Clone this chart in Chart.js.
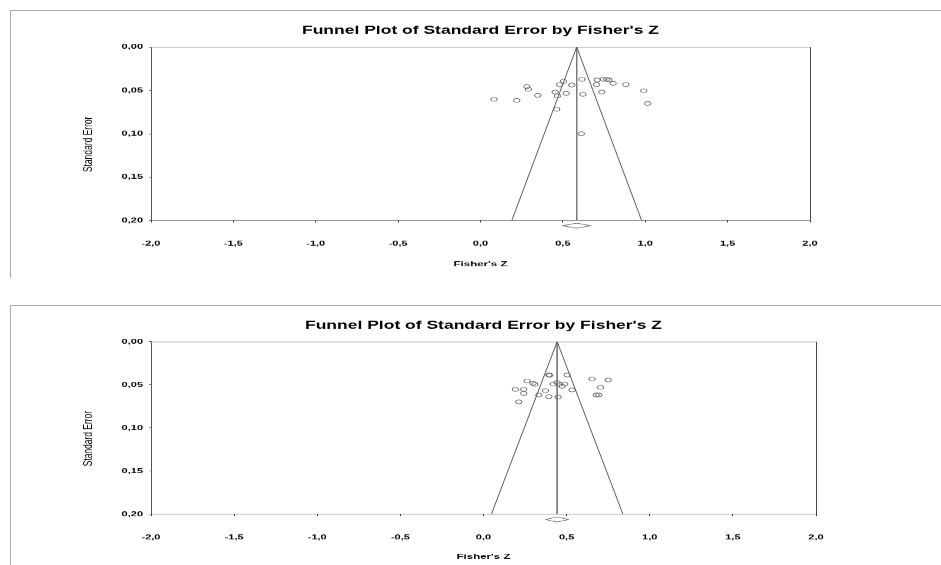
<!DOCTYPE html>
<html><head><meta charset="utf-8">
<script src="https://cdn.jsdelivr.net/npm/chart.js@4.4.1/dist/chart.umd.min.js"></script>
<style>
html,body{margin:0;padding:0;background:#fff;width:941px;height:565px;overflow:hidden;position:relative}
.frame{position:absolute;border-top:1px solid #a8a8a8;border-left:1px solid #a8a8a8;box-sizing:border-box}
canvas{position:absolute;left:0;transform:scaleY(0.625);transform-origin:0 0}
</style></head><body>
<div class="frame" style="left:10px;top:10px;width:931px;height:268px"></div>
<div class="frame" style="left:10px;top:305px;width:931px;height:260px"></div>
<canvas id="c1" width="941" height="464" style="top:0px"></canvas>
<canvas id="c2" width="941" height="440" style="top:290px"></canvas>
<script>
// ---- text ----
const chartTitle = "Funnel Plot of Standard Error by Fisher's Z";
const xAxisTitle = "Fisher's Z";
const yAxisTitle = "Standard Error";

// ---- tick values & labels ----
const xTickValues = [-2, -1.5, -1, -0.5, 0, 0.5, 1, 1.5, 2];
const xTickLabels = ['-2,0', '-1,5', '-1,0', '-0,5', '0,0', '0,5', '1,0', '1,5', '2,0'];
const yTickValues = [0, 0.05, 0.10, 0.15, 0.20];
const yTickLabels = ['0,00', '0,05', '0,10', '0,15', '0,20'];

// ---- top plot: studies ----
const topZ  = [0.082, 0.220, 0.281, 0.291, 0.348, 0.453, 0.467, 0.463, 0.480, 0.504, 0.520, 0.554, 0.616, 0.622, 0.612, 0.708, 0.704, 0.736, 0.746, 0.766, 0.780, 0.805, 0.882, 0.991, 1.015];
const topSE = [0.0603, 0.0615, 0.0457, 0.0488, 0.0557, 0.0519, 0.0565, 0.0718, 0.0434, 0.0396, 0.0534, 0.0438, 0.0373, 0.0546, 0.0999, 0.0380, 0.0434, 0.0519, 0.0373, 0.0373, 0.0380, 0.0419, 0.0434, 0.0504, 0.0650];
// top plot: funnel, mean line, summary diamond
const topFunnelZ  = [0.190, 0.584, 0.978];
const topFunnelSE = [0.20, 0.00, 0.20];
const topMeanZ  = [0.584, 0.584];
const topMeanSE = [0.00, 0.20];
const topDiamondZ  = [0.496, 0.584, 0.672, 0.584, 0.496];
const topDiamondSE = [0.206, 0.2031, 0.206, 0.2089, 0.206];

// ---- bottom plot: studies ----
const botZ  = [0.192, 0.212, 0.242, 0.242, 0.262, 0.298, 0.309, 0.333, 0.373, 0.393, 0.398, 0.393, 0.419, 0.443, 0.449, 0.457, 0.473, 0.489, 0.503, 0.533, 0.653, 0.704, 0.750, 0.678, 0.694];
const botSE = [0.0553, 0.0697, 0.0553, 0.0599, 0.0455, 0.0482, 0.0494, 0.0617, 0.0567, 0.0386, 0.0388, 0.0637, 0.0490, 0.0471, 0.0641, 0.0494, 0.0517, 0.0490, 0.0386, 0.0559, 0.0432, 0.0528, 0.0444, 0.0617, 0.0617];
// bottom plot: funnel, mean line, summary diamond
const botFunnelZ  = [0.047, 0.443, 0.839];
const botFunnelSE = [0.20, 0.00, 0.20];
const botMeanZ  = [0.443, 0.443];
const botMeanSE = [0.00, 0.20];
const botDiamondZ  = [0.373, 0.443, 0.513, 0.443, 0.373];
const botDiamondSE = [0.206, 0.2031, 0.206, 0.2089, 0.206];

const FONT = "'Liberation Sans', Arial, sans-serif";
const pts = (xs, ys) => xs.map((x, i) => ({x: x, y: ys[i]}));

const plotFrame = {
  id: 'plotFrame',
  beforeDatasetsDraw(chart) {
    const {ctx, chartArea: a} = chart;
    ctx.save();
    ctx.lineWidth = 1;
    ctx.strokeStyle = '#9a9a9a';
    ctx.beginPath(); ctx.moveTo(a.left, a.top + 0.5); ctx.lineTo(a.right, a.top + 0.5); ctx.stroke();
    ctx.strokeStyle = '#444';
    ctx.beginPath(); ctx.moveTo(Math.round(a.right) + 0.5, a.top); ctx.lineTo(Math.round(a.right) + 0.5, a.bottom); ctx.stroke();
    ctx.restore();
  }
};

function makeChart(id, d, L) {
  return new Chart(document.getElementById(id), {
    type: 'scatter',
    data: {
      datasets: [
        { data: pts(d.z, d.se), pointStyle: 'circle', pointRadius: 3.2, pointBorderWidth: 1,
          borderColor: '#606060', backgroundColor: 'rgba(0,0,0,0)', showLine: false },
        { data: pts(d.fz, d.fse), showLine: true, pointRadius: 0, borderColor: '#5a5a5a', borderWidth: 1, fill: false },
        { data: pts(d.mz, d.mse), showLine: true, pointRadius: 0, borderColor: '#7a7a7a', borderWidth: 1, fill: false },
        { data: pts(d.dz, d.dse), showLine: true, pointRadius: 0, borderColor: '#666', borderWidth: 1, fill: false, clip: false }
      ]
    },
    options: {
      responsive: false, maintainAspectRatio: false, animation: false, events: [],
      layout: { padding: { left: 0, top: 0, right: L.padRight, bottom: 0 } },
      plugins: {
        legend: { display: false }, tooltip: { enabled: false },
        title: { display: true, text: chartTitle, fullSize: false, color: '#000',
          font: { family: FONT, size: 17.5, weight: 'bold', lineHeight: 1.2 },
          padding: { top: L.titleTop, bottom: L.titleBottom } }
      },
      scales: {
        x: {
          type: 'linear', position: 'bottom', min: -2, max: 2,
          afterBuildTicks: s => { s.ticks = xTickValues.map(v => ({value: v})); },
          afterFit: s => { s.height = L.xHeight; },
          ticks: { autoSkip: false, maxRotation: 0, padding: 27.2, color: '#000',
            font: { family: FONT, size: 11, weight: 'bold' },
            callback: (v) => { const i = xTickValues.findIndex(t => Math.abs(t - v) < 1e-9); return i >= 0 ? xTickLabels[i] : ''; } },
          grid: { drawOnChartArea: false, drawTicks: true, tickLength: 3, color: '#333' },
          border: { display: true, color: '#707070', width: 1 },
          title: { display: true, text: xAxisTitle, color: '#000',
            font: { family: FONT, size: 11.5, weight: 'bold', lineHeight: 1.2 },
            padding: { top: 0, bottom: L.xTitleBottom } }
        },
        y: {
          type: 'linear', position: 'left', min: 0, max: 0.2, reverse: true,
          afterBuildTicks: s => { s.ticks = yTickValues.map(v => ({value: v})); },
          afterFit: s => { s.width = 151; },
          ticks: { autoSkip: false, padding: 6, color: '#000',
            font: { family: FONT, size: 11, weight: 'bold' },
            callback: (v) => { const i = yTickValues.findIndex(t => Math.abs(t - v) < 1e-9); return i >= 0 ? yTickLabels[i] : ''; } },
          grid: { drawOnChartArea: false, drawTicks: true, tickLength: 2, color: '#444' },
          border: { display: true, color: '#555', width: 1 },
          title: { display: true, text: yAxisTitle + '         ', color: '#000',
            font: { family: FONT, size: 13.5, weight: 'normal', lineHeight: 1.2 },
            padding: { top: 79.9, bottom: 0 } }
        }
      }
    },
    plugins: [plotFrame]
  });
}

makeChart('c1',
  { z: topZ, se: topSE, fz: topFunnelZ, fse: topFunnelSE, mz: topMeanZ, mse: topMeanSE, dz: topDiamondZ, dse: topDiamondSE },
  { padRight: 131, titleTop: 38.6, titleBottom: 15.6, xHeight: 111.2, xTitleBottom: 34.2 });
makeChart('c2',
  { z: botZ, se: botSE, fz: botFunnelZ, fse: botFunnelSE, mz: botMeanZ, mse: botMeanSE, dz: botDiamondZ, dse: botDiamondSE },
  { padRight: 125, titleTop: 46.6, titleBottom: 15.1, xHeight: 81.1, xTitleBottom: 5.9 });
</script></body></html>
